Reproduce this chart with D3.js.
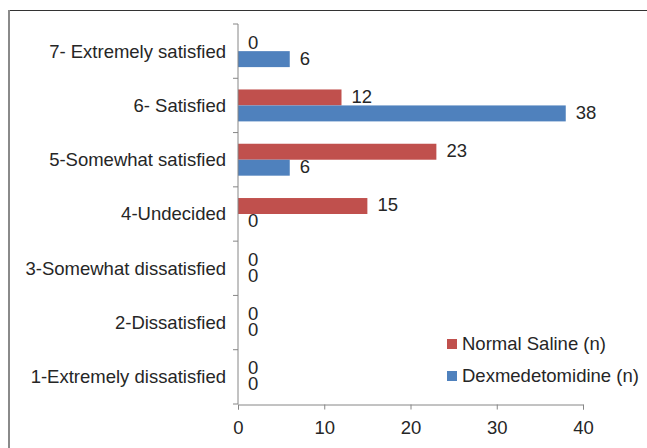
<!DOCTYPE html>
<html>
<head>
<meta charset="utf-8">
<script src="https://cdn.jsdelivr.net/npm/d3@7"></script>
<style>
  body { margin: 0; background: #fff; }
  svg text { font-family: "Liberation Sans", Arial, sans-serif; fill: #262626; }
</style>
</head>
<body>
<div id="chart"></div>
<script>
// satisfaction categories, top to bottom
const categories = [
    "7- Extremely satisfied",
    "6- Satisfied",
    "5-Somewhat satisfied",
    "4-Undecided",
    "3-Somewhat dissatisfied",
    "2-Dissatisfied",
    "1-Extremely dissatisfied"
];
const seriesNames = ["Normal Saline (n)", "Dexmedetomidine (n)"];
const salineValues = [0, 12, 23, 15, 0, 0, 0];
const dexValues = [6, 38, 6, 0, 0, 0, 0];
const xTicks = [0, 10, 20, 30, 40];

const colors = ["#C0504D", "#4F81BD"];
const fontSize = 18.5;

const width = 647;
const height = 448;

const svg = d3.select("#chart")
    .append("svg")
    .attr("width", width)
    .attr("height", height);

// outer frame (only top and left edges visible)
svg.append("line")
    .attr("x1", 8).attr("x2", width)
    .attr("y1", 10.5).attr("y2", 10.5)
    .attr("stroke", "#333").attr("stroke-width", 1);
svg.append("line")
    .attr("x1", 9).attr("x2", 9)
    .attr("y1", 10).attr("y2", height)
    .attr("stroke", "#8a8a8a").attr("stroke-width", 2);

const x = d3.scaleLinear()
    .domain([0, 40])
    .range([238, 583]);

const y = d3.scaleBand()
    .domain(categories)
    .range([24, 404])
    .padding(0);

const y1 = d3.scaleBand()
    .domain(seriesNames)
    .range([0, y.bandwidth()])
    .paddingInner(0)
    .paddingOuter(0.7);

const rows = categories.map((c, i) => ({
    cat: c,
    vals: [salineValues[i], dexValues[i]]
}));

// bars
const g = svg.selectAll(".row")
    .data(rows)
    .enter().append("g")
    .attr("class", "row")
    .attr("transform", (d) => `translate(0,${y(d.cat)})`);

g.selectAll("rect")
    .data((d) => d.vals.map((v, k) => ({ v, k })))
    .enter().append("rect")
    .attr("x", x(0))
    .attr("y", (d) => y1(seriesNames[d.k]))
    .attr("width", (d) => x(d.v) - x(0))
    .attr("height", y1.bandwidth())
    .attr("fill", (d) => colors[d.k]);

// value labels
g.selectAll("text.val")
    .data((d) => d.vals.map((v, k) => ({ v, k })))
    .enter().append("text")
    .attr("class", "val")
    .attr("x", (d) => x(d.v) + 10)
    .attr("y", (d) => y1(seriesNames[d.k]) + y1.bandwidth() / 2 - 1)
    .attr("dy", "0.35em")
    .style("font-size", `${fontSize}px`)
    .text((d) => d.v);

// y axis
const yAxis = svg.append("g")
    .attr("transform", `translate(${x(0)},0)`);
yAxis.append("line")
    .attr("x1", 0).attr("x2", 0)
    .attr("y1", 24).attr("y2", 404)
    .attr("stroke", "#868686");
const boundaries = categories.map((c) => y(c)).concat([404]);
yAxis.selectAll("line.tick")
    .data(boundaries)
    .enter().append("line")
    .attr("class", "tick")
    .attr("x1", -5).attr("x2", 0)
    .attr("y1", (d) => d).attr("y2", (d) => d)
    .attr("stroke", "#868686");
yAxis.selectAll("text")
    .data(categories)
    .enter().append("text")
    .attr("x", -12)
    .attr("y", (d) => y(d) + y.bandwidth() / 2)
    .attr("dy", "0.35em")
    .attr("text-anchor", "end")
    .style("font-size", `${fontSize}px`)
    .text((d) => d);

// x axis
const xAxis = svg.append("g")
    .attr("transform", "translate(0,404.5)")
    .call(d3.axisBottom(x).tickValues(xTicks).tickSize(5).tickPadding(11).tickFormat(d3.format("d")));
xAxis.select(".domain").attr("stroke", "#868686");
xAxis.selectAll(".tick line").attr("stroke", "#868686");
xAxis.selectAll(".tick text")
    .style("font-size", `${fontSize}px`)
    .style("font-family", "'Liberation Sans', Arial, sans-serif")
    .attr("fill", "#262626");

// legend
const legend = svg.selectAll(".legend")
    .data(seriesNames)
    .enter().append("g")
    .attr("class", "legend")
    .attr("transform", (d, i) => `translate(447,${344 + i * 32})`);
legend.append("rect")
    .attr("x", 0).attr("y", -5)
    .attr("width", 10).attr("height", 10)
    .attr("fill", (d, i) => colors[i]);
legend.append("text")
    .attr("x", 15)
    .attr("dy", "0.35em")
    .style("font-size", `${fontSize}px`)
    .text((d) => d);
</script>
</body>
</html>
